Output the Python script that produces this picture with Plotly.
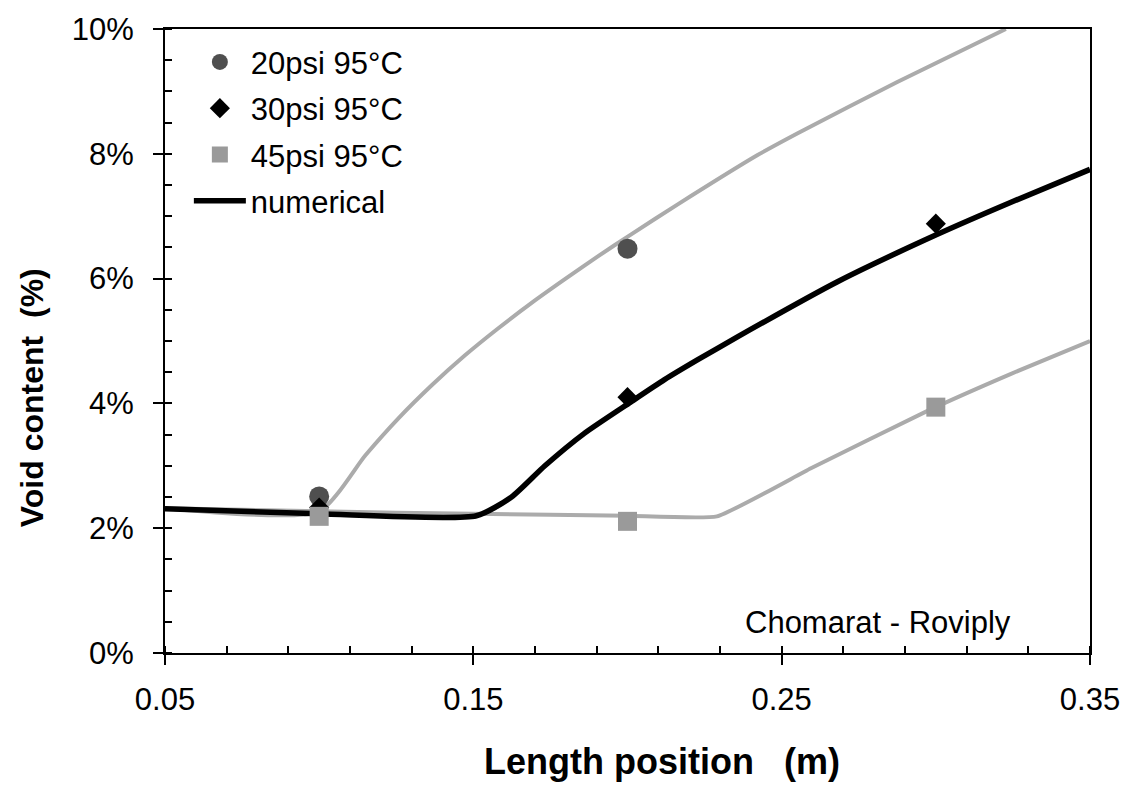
import plotly.graph_objects as go

# ---- data (length position in m, void content in %) ----
exp_x = [0.10, 0.20]
exp20_y = [2.51, 6.48]
exp30_x = [0.10, 0.20, 0.30]
exp30_y = [2.33, 4.10, 6.88]
exp45_x = [0.10, 0.20, 0.30]
exp45_y = [2.19, 2.11, 3.94]

num20_x = [0.05, 0.10, 0.115, 0.1257, 0.1365, 0.1473, 0.158, 0.1689, 0.1797, 0.1905,
           0.2012, 0.2163, 0.2422, 0.2552, 0.2875, 0.3227]
num20_y = [2.32, 2.27, 3.17, 3.76, 4.29, 4.77, 5.20, 5.61, 5.99, 6.36,
           6.71, 7.19, 7.98, 8.33, 9.15, 10.0]

num30_x = [0.05, 0.10, 0.151, 0.1624, 0.1732, 0.186, 0.201, 0.212, 0.2228,
           0.2358, 0.2681, 0.3005, 0.3242, 0.35]
num30_y = [2.31, 2.23, 2.20, 2.50, 3.00, 3.52, 4.02, 4.38, 4.70,
           5.07, 5.95, 6.71, 7.22, 7.75]

num45_x = [0.05, 0.10, 0.15, 0.20, 0.229, 0.2595, 0.2973, 0.3242, 0.35]
num45_y = [2.32, 2.27, 2.23, 2.20, 2.19, 2.96, 3.88, 4.47, 5.00]

FONT = "Liberation Sans, Arial, sans-serif"
GRAY_LINE = "#ababab"

fig = go.Figure()

fig.add_trace(go.Scatter(x=num20_x, y=num20_y, mode="lines",
                         line=dict(color=GRAY_LINE, width=4, shape="spline", smoothing=0.6),
                         showlegend=False, hoverinfo="skip"))
fig.add_trace(go.Scatter(x=num45_x, y=num45_y, mode="lines",
                         line=dict(color=GRAY_LINE, width=4, shape="spline", smoothing=0.4),
                         showlegend=False, hoverinfo="skip"))
fig.add_trace(go.Scatter(x=num30_x, y=num30_y, mode="lines", name="numerical",
                         line=dict(color="black", width=5.5, shape="spline", smoothing=0.6),
                         legendrank=4, legendgroup="d"))

fig.add_trace(go.Scatter(x=exp_x, y=exp20_y, mode="markers", name="20psi 95°C",
                         marker=dict(symbol="circle", size=20, color="#4f4f4f"),
                         legendrank=1, legendgroup="a"))
fig.add_trace(go.Scatter(x=exp30_x, y=exp30_y, mode="markers", name="30psi 95°C",
                         marker=dict(symbol="diamond", size=15.5, color="black"),
                         legendrank=2, legendgroup="b"))
fig.add_trace(go.Scatter(x=exp45_x, y=exp45_y, mode="markers", name="45psi 95°C",
                         marker=dict(symbol="square", size=19, color="#9a9a9a"),
                         legendrank=3, legendgroup="c"))

fig.add_annotation(text="Chomarat - Roviply", xref="paper", yref="paper",
                   x=0.771, y=0.049, xanchor="center", yanchor="middle", showarrow=False,
                   font=dict(family=FONT, size=31, color="black"))

# axis titles
fig.add_annotation(text="<b>Length position   (m)</b>", xref="paper", yref="paper",
                   x=0.5376, y=-0.1746, xanchor="center", yanchor="middle", showarrow=False,
                   font=dict(family=FONT, size=36, color="black"))
fig.add_annotation(text="<b>Void content  (%)</b>", xref="paper", yref="paper",
                   x=-0.143, y=0.4095, xanchor="center", yanchor="middle", showarrow=False,
                   textangle=-90, font=dict(family=FONT, size=32, color="black"))

fig.update_layout(
    width=1132, height=786,
    margin=dict(l=165, r=37, t=23, b=133),
    paper_bgcolor="white", plot_bgcolor="white",
    font=dict(family=FONT, color="black", size=31),
    showlegend=True,
    legend=dict(x=0.0258, y=0.99, xanchor="left", yanchor="top",
                bgcolor="rgba(0,0,0,0)", borderwidth=0,
                font=dict(family=FONT, size=31), tracegroupgap=3,
                itemwidth=52),
    xaxis=dict(range=[0.05, 0.35], tick0=0.05, dtick=0.1, tickformat=".2f",
               showgrid=False, zeroline=False, showline=True, linecolor="black", linewidth=2,
               mirror=True, ticks="outside", ticklen=10, tickwidth=2, tickcolor="black",
               ticklabelstandoff=8,
               minor=dict(ticks="inside", tick0=0.05, dtick=0.02, ticklen=7, tickwidth=1.5,
                          tickcolor="black", showgrid=False),
               tickfont=dict(family=FONT, size=31)),
    yaxis=dict(range=[0, 10], tick0=0, dtick=2, ticksuffix="%",
               showgrid=False, zeroline=False, showline=True, linecolor="black", linewidth=2,
               mirror=True, ticks="outside", ticklen=10, tickwidth=2, tickcolor="black",
               ticklabelstandoff=13,
               minor=dict(ticks="inside", dtick=0.5, ticklen=7, tickwidth=1.5,
                          tickcolor="black", showgrid=False),
               tickfont=dict(family=FONT, size=31)),
)

fig.write_html("out.html")
